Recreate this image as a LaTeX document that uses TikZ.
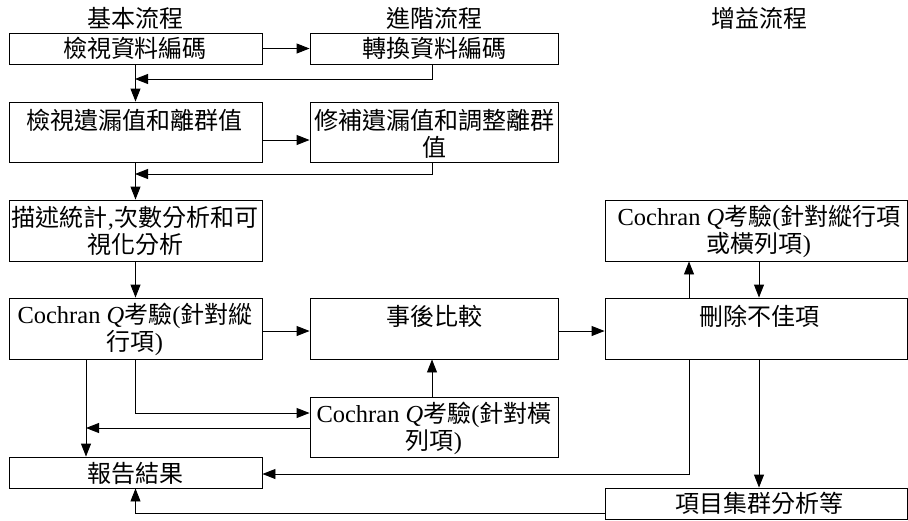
\documentclass[tikz,border=0pt]{standalone}
\usepackage{fontspec}
\setmainfont{Liberation Serif}
\newfontfamily\cjkf{Noto Sans CJK TC}
\newfontfamily\latf[Scale=1.02]{Liberation Serif}
\usetikzlibrary{arrows.meta}
\begin{document}
\begin{tikzpicture}[x=1pt,y=-1pt,
  box/.style={draw, line width=0.9pt, inner sep=0pt, anchor=center},
  lbl/.style={inner sep=0pt, align=center, font=\cjkf\fontsize{24}{27}\selectfont},
  arr/.style={line width=0.9pt, -{Triangle[length=13pt,width=10pt]}},
  ln/.style={line width=0.9pt}]
\useasboundingbox (0,0) rectangle (908,520);
% headers
\node[lbl] (h1) at (135,18) {基本流程};
\node[lbl] (h2) at (434,18) {進階流程};
\node[lbl] (h3) at (759,18) {增益流程};
% boxes
\node[box, minimum width=253pt, minimum height=31pt] (b1) at (135.5,48.5) {};
\node[box, minimum width=248pt, minimum height=31pt] (b1r) at (434,48.5) {};
\node[box, minimum width=253pt, minimum height=60pt] (b2) at (135.5,132) {};
\node[box, minimum width=248pt, minimum height=60pt] (b2r) at (434,132) {};
\node[box, minimum width=253pt, minimum height=61pt] (b3) at (135.5,230.5) {};
\node[box, minimum width=302pt, minimum height=61pt] (b3r) at (756,230.5) {};
\node[box, minimum width=253pt, minimum height=61pt] (b4) at (135.5,328.5) {};
\node[box, minimum width=248pt, minimum height=61pt] (b4m) at (434,328.5) {};
\node[box, minimum width=302pt, minimum height=61pt] (b4r) at (756,328.5) {};
\node[box, minimum width=248pt, minimum height=60pt] (b5m) at (434,427) {};
\node[box, minimum width=253pt, minimum height=31pt] (b6) at (135.5,472.5) {};
\node[box, minimum width=302pt, minimum height=31pt] (b6r) at (756,503.5) {};
% texts
\node[lbl] (t1) at (135,48) {檢視資料編碼};
\node[lbl] (t1r) at (434,48) {轉換資料編碼};
\node[lbl] (t2) at (135,120) {檢視遺漏值和離群值};
\node[lbl] (t2r) at (434,134) {修補遺漏值和調整離群\\值};
\node[lbl] (t3) at (135,231) {描述統計{\latf,}次數分析和可\\視化分析};
\node[lbl] (t3r) at (759,231) {{\latf Cochran \textit{Q}}考驗{\latf(}針對縱行項\\或橫列項{\latf)}};
\node[lbl] (t4) at (135,329.5) {{\latf Cochran \textit{Q}}考驗{\latf(}針對縱\\行項{\latf)}};
\node[lbl] (t4m) at (434,316) {事後比較};
\node[lbl] (t4r) at (759,316) {刪除不佳項};
\node[lbl] (t5m) at (434,428) {{\latf Cochran \textit{Q}}考驗{\latf(}針對橫\\列項{\latf)}};
\node[lbl] (t6) at (135,473) {報告結果};
\node[lbl] (t6r) at (759,503) {項目集群分析等};
% junction coordinates
\coordinate (j1) at (135,79);
\coordinate (j2) at (135,174);
\coordinate (j3) at (135,413);
\coordinate (j4) at (86,428);
\coordinate (j5) at (689,474);
\coordinate (j6) at (135,513);
% connectors
\draw[arr] (b1) -- (b1r);
\draw[arr] (b1r.south -| 432,0) |- (j1);
\draw[arr] (b1.south) -- (b2.north);
\draw[arr] (b2.east |- 0,140) -- (b2r.west |- 0,140);
\draw[arr] (b2r.south -| 432,0) |- (j2);
\draw[arr] (b2.south) -- (b3.north);
\draw[arr] (b3.south) -- (b4.north);
\draw[arr] (b4.east |- 0,331) -- (b4m.west |- 0,331);
\draw[arr] (b4m.east |- 0,331) -- (b4r.west |- 0,331);
\draw[arr] (b4r.north -| 689,0) -- (b3r.south -| 689,0);
\draw[arr] (b3r.south -| 759,0) -- (b4r.north -| 759,0);
\draw[arr] (b5m.north -| 432,0) -- (b4m.south -| 432,0);
\draw[arr] (b4.south) |- (b5m.west |- j3);
\draw[arr] (b5m.west |- j4) -- (j4);
\draw[arr] (b4.south -| j4) -- (b6.north -| j4);
\draw[arr] (b4r.south -| j5) |- (b6.east |- j5);
\draw[arr] (b4r.south -| 759,0) -- (b6r.north -| 759,0);
\draw[arr] (b6r.west |- j6) -| (b6.south);
\end{tikzpicture}
\end{document}
